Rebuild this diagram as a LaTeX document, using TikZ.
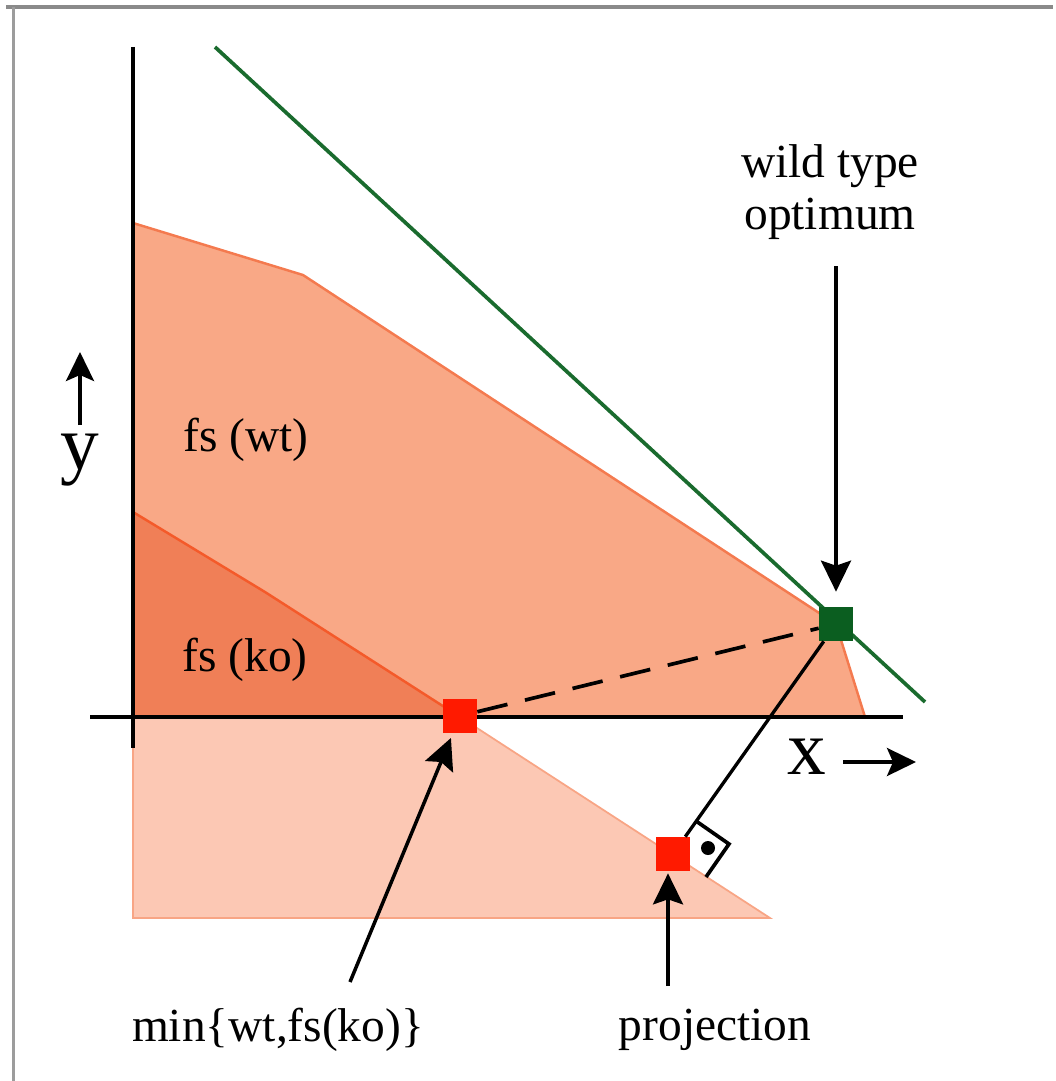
\documentclass[tikz,border=0pt]{standalone}
\usepackage{fontspec}
\setmainfont{Liberation Serif}
\usetikzlibrary{arrows.meta}

\definecolor{wtfill}{HTML}{F9A886}
\definecolor{wtedge}{HTML}{F47A4F}
\definecolor{kofill}{HTML}{F07F57}
\definecolor{koedge}{HTML}{F45A2A}
\definecolor{projfill}{HTML}{FCC8B4}
\definecolor{projedge}{HTML}{F8A585}
\definecolor{optgreen}{HTML}{1A6B2E}
\definecolor{sqgreen}{HTML}{0B5E20}
\definecolor{sqred}{HTML}{FF1A00}
\definecolor{framegray}{HTML}{8A8A8A}

\begin{document}
\begin{tikzpicture}[
    x=0.02cm, y=-0.02cm,
    font=\fontsize{27}{30}\selectfont,
    label/.style={
        align=center,
        inner sep=0pt
    },
    axislabel/.style={
        inner sep=0pt,
        font=\fontsize{44}{46}\selectfont
    },
    point/.style={
        rectangle,
        inner sep=0pt,
        minimum size=0.68cm
    },
    bigarrow/.style={-{Stealth[length=0.62cm, width=0.6cm, inset=0.1cm]}, line width=2pt},
    axarrow/.style={-{Stealth[length=0.58cm, width=0.56cm, inset=0.12cm]}, line width=2pt}
]

\useasboundingbox (0,0) rectangle (1055,1081);

% Frame
\draw[framegray, line width=2.3pt] (6,7) -- (1053,7);
\draw[framegray!85, line width=1.7pt] (13.5,7) -- (13.5,1081);

% Feasible sets
\filldraw[fill=projfill, draw=projedge, line width=1pt] (133,717) -- (460,717) -- (770,918) -- (133,918) -- cycle;
\filldraw[fill=wtfill, draw=wtedge, line width=1.4pt] (133,223) -- (303,275) -- (836,624) -- (865,717) -- (133,717) -- cycle;
\filldraw[fill=kofill, draw=koedge, line width=1.4pt] (133,512) -- (265,592) -- (460,717) -- (133,717) -- cycle;

% Axes
\draw[line width=2.2pt] (133,47) -- (133,748);
\draw[line width=2.2pt] (90,717) -- (903,717);

% Objective line
\draw[optgreen, line width=2.1pt] (215,47) -- (925,702);

% Points
\node[point, fill=sqred] (ko) at (460,716) {};
\node[point, fill=sqgreen] (wt) at (836,624) {};
\node[point, fill=sqred] (proj) at (673,854) {};

% Region labels
\node[label] (fswt) at (246,440) {fs (wt)};
\node[label] (fsko) at (245,660) {fs (ko)};

% Axis labels
\node[axislabel] (ylab) at (80,460) {y};
\node[axislabel] (xlab) at (807,757) {x};
\draw[axarrow] (80,425) -- (80,352);
\draw[axarrow] (843,762) -- (916,762);

% Annotations
\node[label] (wtlab) at (830,192) {wild type\\optimum};
\node[label] (minlab) at (278,1030) {min\{wt,fs(ko)\}};
\node[label] (projlab) at (715,1030) {projection};
\coordinate (mintail) at (350,982);
\coordinate (projtail) at (668,986);

% Connections
\draw[line width=2.1pt, dash pattern=on 0.62cm off 0.36cm] (ko) -- (wt);
\draw[line width=1.9pt] (wt) -- (proj);

% Right angle mark
\draw[line width=2.1pt] (696,821) -- (729,844) -- (706,877);
\fill (708,848) circle (0.14cm);

% Arrows
\draw[bigarrow, shorten <=0.52cm, shorten >=0.3cm] (wtlab.south -| wt) -- (wt.north);
\draw[bigarrow, shorten >=0.1cm] (mintail) -- (ko);
\draw[bigarrow, shorten >=0.04cm] (projtail) -- (projtail |- proj.south);

\end{tikzpicture}
\end{document}
